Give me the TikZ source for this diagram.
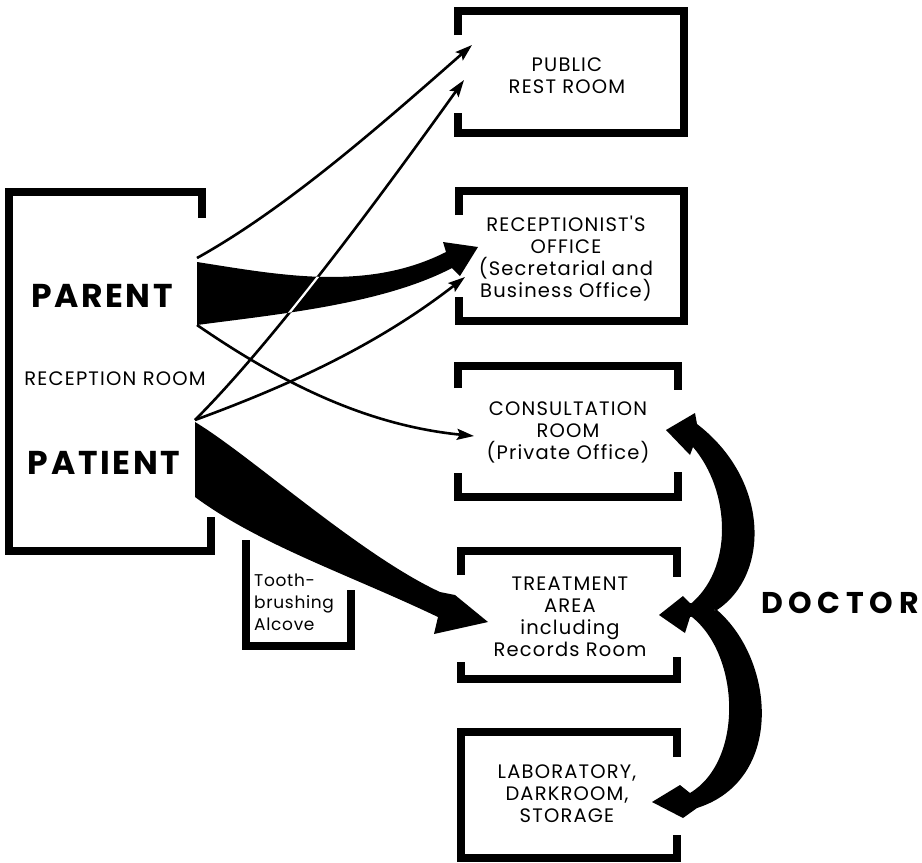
\documentclass[tikz,border=0pt]{standalone}
\usepackage{fontspec}
\setmainfont{Poppins}
\newfontfamily\roomfont[LetterSpace=6]{Poppins}
\newfontfamily\alcovefont[LetterSpace=4]{Poppins}
\newfontfamily\bigfont[LetterSpace=8]{Poppins}
\newfontfamily\doctorfont[LetterSpace=19]{Poppins}
\usetikzlibrary{arrows.meta}
\begin{document}
\begin{tikzpicture}[x=1pt,y=-1pt,
  wall/.style={line width=8pt, line join=miter, line cap=butt},
  thinarrow/.style={line width=2.6pt, -{Stealth[length=17pt,width=11pt,inset=3pt]}},
  roomtext/.style={font=\roomfont\fontsize{19.5}{22}\selectfont, align=center, inner sep=0pt},
  bigtext/.style={font=\bigfont\bfseries\fontsize{33}{40}\selectfont, inner sep=0pt},
]
\useasboundingbox (0,0) rectangle (922,863);

% ---------- walls ----------
% reception room
\draw[wall] (202,218) -- (202,192) -- (8.5,192) -- (8.5,551) -- (211,551) -- (211,517);
% tooth-brushing alcove
\draw[wall] (246,540) -- (246,646) -- (351,646) -- (351,590);
% public rest room
\draw[wall] (458,35) -- (458,11) -- (684,11) -- (684,133) -- (458,133) -- (458,113);
% receptionist's office
\draw[wall] (459,215) -- (459,191) -- (684,191) -- (684,321) -- (459,321) -- (459,297);
% consultation room
\draw[wall] (458,388) -- (458,366) -- (678,366) -- (678,390);
\draw[wall] (458,473) -- (458,497) -- (678,497) -- (678,472);
% treatment area
\draw[wall] (461,575) -- (461,551) -- (677,551) -- (677,577);
\draw[wall] (461,662) -- (461,679) -- (677,679) -- (677,657);
% laboratory
\draw[wall] (677,757) -- (677,732) -- (461,732) -- (461,858) -- (677,858) -- (677,835);

% ---------- texts ----------
\node[bigtext] (parent) at (102,296) {PARENT};
\node[bigtext] (patient) at (104,463) {PATIENT};
\node[inner sep=0pt, font=\doctorfont\bfseries\fontsize{30}{34}\selectfont] (doctor) at (840,603) {DOCTOR};
\node[roomtext] (reception) at (115,379) {RECEPTION ROOM};
\node[roomtext] (public) at (567,76) {PUBLIC\\REST ROOM};
\node[roomtext] (recep) at (566,259) {RECEPTIONIST'S\\OFFICE\\(Secretarial and\\Business Office)};
\node[roomtext] (consult) at (568,432) {CONSULTATION\\ROOM\\(Private Office)};
\node[roomtext] (treat) at (570,617) {TREATMENT\\AREA\\including\\Records Room};
\node[roomtext] (lab) at (567,794) {LABORATORY,\\DARKROOM,\\STORAGE};
\node[inner sep=0pt, align=left, anchor=west, font=\alcovefont\fontsize{17}{22}\selectfont] (alcove) at (254,602) {Tooth-\\brushing\\Alcove};

% ---------- flow coordinates ----------
\coordinate (parTop) at (197,258);
\coordinate (parBot) at (197,325);
\coordinate (patTop) at (195,420);
\coordinate (pubTipA) at (472,45);
\coordinate (pubTipB) at (464,80);
\coordinate (recTip) at (465,277);
\coordinate (conTip) at (474,436);

% parent -> receptionist (broad band)
\fill (197,262) .. controls (280,275) and (367,292) .. (446,252) -- (443,242) -- (478,247) -- (460,276) -- (452,268)
  .. controls (383,304) and (280,314) .. (197,325) -- cycle;
% patient -> treatment (broad band)
\fill (195,422) .. controls (250,455) and (360,555) .. (440,592) -- (455,595) -- (488,622) -- (434,634) -- (438,617)
  .. controls (350,575) and (260,545) .. (195,497) -- cycle;

% thin connectors
\draw[thinarrow] (parTop) .. controls (287,208) and (382,124) .. (pubTipA);
\draw[thinarrow] (patTop) .. controls (275,340) and (383,193) .. (pubTipB);
\draw[thinarrow] (patTop) .. controls (285,387) and (375,347) .. (recTip);
\draw[thinarrow] (parBot) .. controls (277,380) and (363,425) .. (conTip);
% white where the thin line crosses the black band
\begin{scope}
\clip (197,262) .. controls (280,275) and (367,292) .. (446,252) -- (452,268)
  .. controls (383,304) and (280,314) .. (197,325) -- cycle;
\draw[white, line width=2.2pt] (patTop) .. controls (275,340) and (383,193) .. (pubTipB);
\end{scope}

% ---------- doctor brace ----------
% upper crescent -> consultation
\fill (717,610) .. controls (770,575) and (770,480) .. (697,424) -- (695,413) -- (666,430) -- (690,455) -- (693,447)
  .. controls (730,490) and (735,570) .. (688,606) -- cycle;
% middle arrow -> treatment
\fill (717,610) -- (690,603) -- (683,596) -- (659,615) -- (685,633) -- (690,617) -- cycle;
% lower crescent -> laboratory
\fill (717,610) .. controls (775,660) and (785,780) .. (697,808) -- (683,818) -- (652,802) -- (680,785) -- (690,793)
  .. controls (745,760) and (740,650) .. (688,614) -- cycle;
\end{tikzpicture}
\end{document}
